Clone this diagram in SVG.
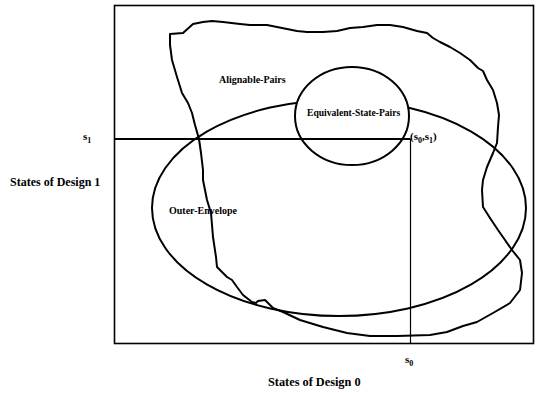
<svg xmlns="http://www.w3.org/2000/svg" width="541" height="393" viewBox="0 0 541 393">
<style>
.t{font-family:"Liberation Serif","Times New Roman",serif;font-weight:bold;fill:#000}
.shape{fill:none;stroke:#000;stroke-width:2;stroke-linejoin:round;stroke-linecap:round}
.sub{font-size:8px}
</style>
<rect x="0" y="0" width="541" height="393" fill="#fff"/>
<g id="frame">
<rect x="114.5" y="5.5" width="419" height="338" fill="none" stroke="#000" stroke-width="1.6"/>
</g>
<g id="outer-envelope">
<ellipse class="shape" cx="339" cy="208" rx="187" ry="108"/>
<text class="t" x="169" y="213.5" font-size="10">Outer-Envelope</text>
</g>
<g id="equivalent-state-pairs">
<ellipse cx="352" cy="116" rx="57" ry="49" fill="#fff" stroke="#000" stroke-width="2"/>
<text class="t" x="307" y="115.5" font-size="9.6">Equivalent-State-Pairs</text>
</g>
<g id="alignable-pairs">
<path class="shape" d="M170,34 L183,33 L193,24 L203,22 L212,21 L223,22 L240,24 L250,25 L267,25 L277,27 L287,29 L297,31 L307,32 L323,32 L337,31 L350,28 L363,27 L377,25 L390,25 L403,27 L417,31 L427,33 L433,38 L440,42 L450,47 L460,53 L470,60 L478,68 L483,71 L487,80 L493,90 L497,103 L499,115 L498,127 L497,143 L493,153 L487,167 L483,180 L482,190 L483,207 L490,218 L498,230 L505,240 L512,250 L520,260 L522,273 L520,290 L510,303 L493,313 L477,322 L463,326 L447,332 L430,335 L397,336 L370,336 L347,333 L323,327 L300,320 L283,312 L273,308 L268,303 L265,300 L258,301 L256,303 L252,302 L243,295 L237,287 L232,280 L227,277 L217,267 L216,257 L213,237 L211,213 L207,200 L203,180 L203,170 L201,153 L199,139 L195,125 L192,113 L188,103 L182,93 L177,77 L172,60 L170,45 Z"/>
<text class="t" x="219" y="82.5" font-size="10">Alignable-Pairs</text>
</g>
<g id="connectors">
<line x1="114.5" y1="139" x2="410.5" y2="139" stroke="#000" stroke-width="2"/>
<line x1="410.5" y1="139" x2="410.5" y2="343.5" stroke="#000" stroke-width="1.2"/>
</g>
<g id="labels">
<text class="t" x="83" y="140" font-size="11">s<tspan class="sub" dy="2.5">1</tspan></text>
<text class="t" x="10" y="186" font-size="12">States of Design 1</text>
<text class="t" x="405" y="363" font-size="11">s<tspan class="sub" dy="2.5">0</tspan></text>
<text class="t" x="268" y="386" font-size="12.3">States of Design 0</text>
<text class="t" x="410" y="140" font-size="11">(s<tspan class="sub" dy="2.5">0</tspan><tspan dy="-2.5">,s</tspan><tspan class="sub" dy="2.5">1</tspan><tspan dy="-2.5">)</tspan></text>
</g>
</svg>
